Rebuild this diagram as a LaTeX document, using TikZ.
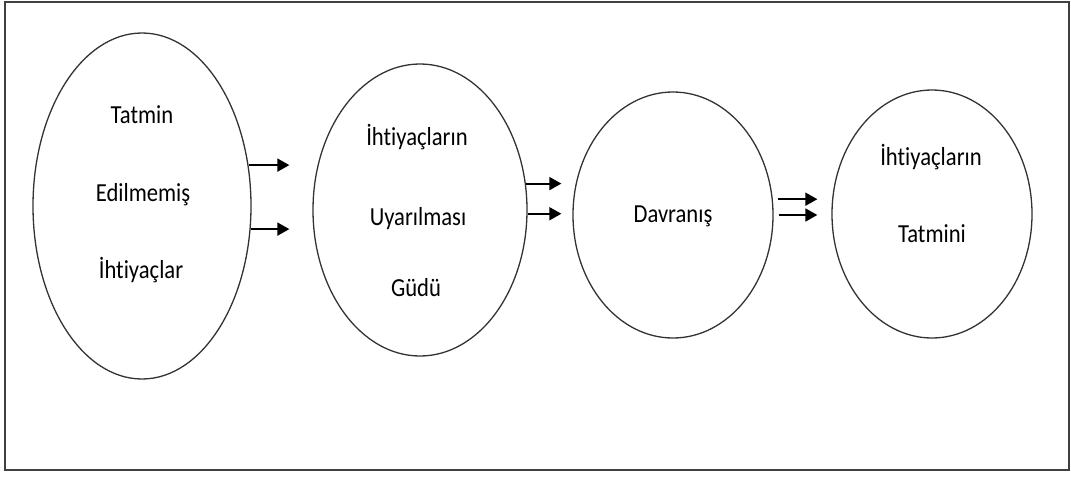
\documentclass[tikz,border=0pt]{standalone}
\usepackage{fontspec}
\setmainfont{Carlito}[FakeStretch=0.87,Ligatures=NoCommon,Contextuals=NoAlternate]
\usetikzlibrary{shapes.geometric,arrows.meta}

\begin{document}
\begin{tikzpicture}[x=1pt,y=-1pt,
        oval/.style={draw=black!80,line width=1.3pt,ellipse,inner sep=0pt},
        txt/.style={anchor=base,font=\fontsize{26}{30}\selectfont},
        arr/.style={-{Triangle[length=12pt,width=13pt]},line width=1.8pt}]
        \useasboundingbox (0,0) rectangle (1071,477);
        \draw[black!75,line width=2pt] (5,2) rectangle (1069,470);
        \node[oval,minimum width=218pt,minimum height=346pt] (e1) at (142,206) {};
        \node[oval,minimum width=214pt,minimum height=292pt] (e2) at (420,210) {};
        \node[oval,minimum width=200pt,minimum height=246pt] (e3) at (673,215) {};
        \node[oval,minimum width=200pt,minimum height=248pt] (e4) at (932,214) {};
        \node[txt] (t1a) at (142,123) {Tatmin};
        \node[txt] (t1b) at (143,201) {Edilmemiş};
        \node[txt] (t1c) at (141,278) {İhtiyaçlar};
        \node[txt] (t2a) at (417,145) {İhtiyaçların};
        \node[txt] (t2b) at (418,225) {Uyarılması};
        \node[txt] (t2c) at (416,296) {Güdü};
        \node[txt] (t3a) at (673,222) {Davranış};
        \node[txt] (t4a) at (931,165) {İhtiyaçların};
        \node[txt] (t4b) at (932,242) {Tatmini};
        \draw[arr,shorten >=23pt] (e1.21) -- (e1.21 -| e2.west);
        \draw[arr,shorten >=23pt] (e1.-12.5) -- (e1.-12.5 -| e2.west);
        \draw[arr,shorten >=11pt] (e2.14.4) -- (e2.14.4 -| e3.west);
        \draw[arr,shorten >=11pt] (e2.-2.7) -- (e2.-2.7 -| e3.west);
        \draw[arr,shorten <=5pt,shorten >=14pt] (e3.9.7) -- (e3.9.7 -| e4.west);
        \draw[arr,shorten <=5pt,shorten >=14pt] (e3.-0.6) -- (e3.-0.6 -| e4.west);
\end{tikzpicture}
\end{document}
